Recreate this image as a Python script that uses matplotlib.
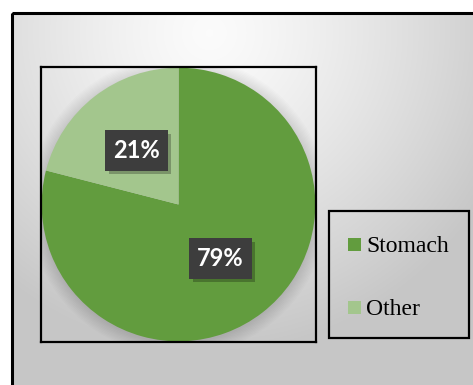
import numpy as np
import matplotlib
matplotlib.use("Agg")
import matplotlib.pyplot as plt
from matplotlib.patches import Rectangle, Circle
from matplotlib import patheffects as pe

categories = ["Stomach", "Other"]
shares = [79, 21]
colors = ["#629c3e", "#a3c68d"]

W, H = 473, 385
fig = plt.figure(figsize=(W / 100, H / 100), dpi=100)
fig.patch.set_facecolor("white")

# Chart-area background: soft radial grey gradient (pixel coordinates, y down)
bg = fig.add_axes([0, 0, 1, 1])
bg.axis("off")
yy, xx = np.mgrid[0:H, 0:W]
d = np.hypot((xx - 200) / 330.0, (yy - 20) / 330.0)
shade = np.clip(0.985 - 0.21 * d ** 1.3, 0.78, 1.0)
img = np.dstack([shade] * 3)
bg.imshow(img, extent=(12, W + 5, H + 5, 13), zorder=0, interpolation="bilinear")
bg.set_xlim(0, W)
bg.set_ylim(H, 0)
bg.add_patch(Rectangle((12, 13), W, H, fill=False, edgecolor="black", linewidth=2.2, zorder=2))

# Plot area (square) holding the pie
x0, y0, side = 41, 67, 275
ax = fig.add_axes([x0 / W, 1 - (y0 + side) / H, side / W, side / H])
ax.patch.set_alpha(0)

# faint soft shadow behind the pie
for i in range(10):
    ax.add_patch(Circle((0, -0.01), 1.0 + 0.01 * i, color="black", alpha=0.011, lw=0, zorder=0))

wedges, texts, autotexts = ax.pie(
    shares, colors=colors, startangle=90, counterclock=False, radius=0.995,
    autopct=lambda p: f"{p:.0f}%", pctdistance=0.5,
    wedgeprops=dict(linewidth=0), frame=True,
    textprops=dict(color="white", fontsize=17, fontweight="bold", family=["Lato", "DejaVu Sans"]),
)
ax.set_xlim(-1.0, 1.0)
ax.set_ylim(-1.0, 1.0)
ax.set_aspect("equal")
ax.set_xticks([])
ax.set_yticks([])
for s in ax.spines.values():
    s.set_linewidth(1.6)
    s.set_color("black")
for w in wedges:
    w.set_zorder(1)
for t in autotexts:
    t.set_zorder(3)
    t.set_bbox(dict(boxstyle="square,pad=0.33", facecolor="#3d3d3d", edgecolor="none",
                    mutation_aspect=1.1))
    t.get_bbox_patch().set_path_effects([
        pe.SimplePatchShadow(offset=(2.5, -2.5), shadow_rgbFace="black", alpha=0.25),
        pe.Normal(),
    ])

# Legend box on the right, laid out in pixel coordinates
leg_x, leg_y, leg_w, leg_h = 329, 211, 140, 127
bg.add_patch(Rectangle((leg_x, leg_y), leg_w, leg_h, fill=False,
                       edgecolor="black", linewidth=1.6, zorder=3))
row_centres = [244, 307]
for name, col, yc in zip(categories, colors, row_centres):
    bg.add_patch(Rectangle((348, yc - 6.5), 13, 13, facecolor=col, edgecolor="none", zorder=3))
    bg.text(366, yc, name, family="Liberation Serif", fontsize=17, color="black",
            va="center_baseline", ha="left", zorder=3)

fig.savefig("out.png", dpi=100)
